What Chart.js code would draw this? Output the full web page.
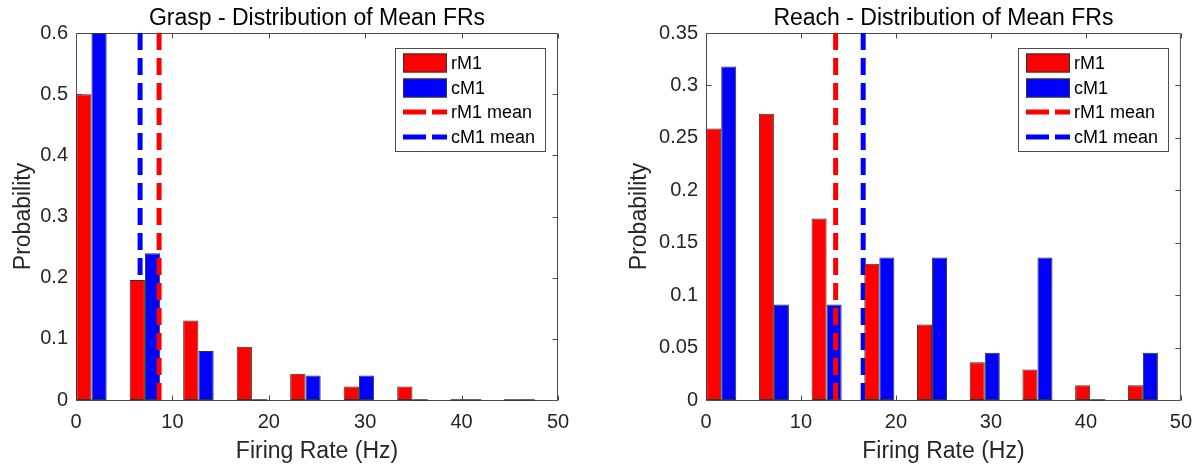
<!DOCTYPE html>
<html>
<head>
<meta charset="utf-8">
<title>Distribution of Mean FRs</title>
<script src="https://cdn.jsdelivr.net/npm/chart.js@4.4.1/dist/chart.umd.min.js"></script>
<style>
  html, body { margin: 0; padding: 0; background: #fff; }
  #wrap { position: relative; width: 1202px; height: 465px; overflow: hidden; }
  .panel { position: absolute; top: 0; width: 601px; height: 465px; }
</style>
</head>
<body>
<div id="wrap">
  <div class="panel" style="left:0"><canvas id="grasp" width="601" height="465"></canvas></div>
  <div class="panel" style="left:601px"><canvas id="reach" width="601" height="465"></canvas></div>
</div>
<script>
// histogram bin centres (Hz), same for both panels
const binCenters = [1.6, 7.15, 12.7, 18.25, 23.8, 29.35, 34.9, 40.45, 46.0];
const xTicks = [0, 10, 20, 30, 40, 50];
const legendLabels = ["rM1", "cM1", "rM1 mean", "cM1 mean"];

// Grasp
const graspRM1 = [0.5, 0.196, 0.13, 0.087, 0.043, 0.022, 0.022, 0, 0];
const graspCM1 = [0.6, 0.24, 0.08, 0, 0.04, 0.04, 0, 0, 0];
const graspMeanRM1 = 8.62;
const graspMeanCM1 = 6.65;
const graspYTicks = [0, 0.1, 0.2, 0.3, 0.4, 0.5, 0.6];

// Reach
const reachRM1 = [0.259, 0.273, 0.173, 0.13, 0.072, 0.036, 0.029, 0.014, 0.014];
const reachCM1 = [0.318, 0.091, 0.091, 0.136, 0.136, 0.045, 0.136, 0, 0.045];
const reachMeanRM1 = 13.65;
const reachMeanCM1 = 16.55;
const reachYTicks = [0, 0.05, 0.1, 0.15, 0.2, 0.25, 0.3, 0.35];

const RED = "#ff0000";
const BLUE = "#0000ff";
const EDGE = "#333333";
const AXIS = "#4d4d4d";

Chart.defaults.font.family = "'Liberation Sans', Arial, Helvetica, sans-serif";
Chart.defaults.color = "#262626";

// box around the plot area with inward ticks on all four sides
const axesBox = {
  id: "axesBox",
  beforeDatasetsDraw(chart) {
    const { ctx, chartArea: a, scales } = chart;
    const len = 5;
    ctx.save();
    ctx.strokeStyle = AXIS;
    ctx.lineWidth = 1;
    ctx.beginPath();
    const l = a.left + 0.5, r = a.right - 0.5, t = a.top + 0.5, b = a.bottom + 0.5;
    ctx.rect(l, t, r - l, b - t);
    scales.x.ticks.forEach((tk) => {
      const px = Math.round(scales.x.getPixelForValue(tk.value)) + 0.5;
      ctx.moveTo(px, b); ctx.lineTo(px, b - len);
      ctx.moveTo(px, t); ctx.lineTo(px, t + len);
    });
    scales.y.ticks.forEach((tk) => {
      const py = Math.round(scales.y.getPixelForValue(tk.value)) + 0.5;
      ctx.moveTo(l, py); ctx.lineTo(l + len, py);
      ctx.moveTo(r, py); ctx.lineTo(r - len, py);
    });
    ctx.stroke();
    ctx.restore();
  },
};

// empty bins still show their bottom edge
const zeroBars = {
  id: "zeroBars",
  afterDatasetsDraw(chart) {
    const { ctx } = chart;
    ctx.save();
    ctx.strokeStyle = EDGE;
    ctx.lineWidth = 1.5;
    chart.data.datasets.forEach((ds, i) => {
      if (ds.type === "line") return;
      const meta = chart.getDatasetMeta(i);
      meta.data.forEach((bar, j) => {
        if (ds.data[j].y !== 0) return;
        const { x, width, base } = bar.getProps(["x", "width", "base"], true);
        ctx.beginPath();
        ctx.moveTo(x - width / 2, base);
        ctx.lineTo(x + width / 2, base);
        ctx.stroke();
      });
    });
    ctx.restore();
  },
};

// legend box in the upper right corner of the plot area
const boxLegend = {
  id: "boxLegend",
  afterDraw(chart) {
    const { ctx, chartArea: a } = chart;
    const w = 150, h = 103;
    const x0 = Math.round(a.right - 13 - w), y0 = Math.round(a.top + 15);
    ctx.save();
    ctx.fillStyle = "#fff";
    ctx.fillRect(x0, y0, w, h);
    ctx.strokeStyle = AXIS;
    ctx.lineWidth = 1;
    ctx.strokeRect(x0 + 0.5, y0 + 0.5, w, h);
    const rows = [15, 40, 64, 89];
    const colors = [RED, BLUE, RED, BLUE];
    ctx.font = "18px 'Liberation Sans', Arial, sans-serif";
    ctx.textBaseline = "middle";
    legendLabels.forEach((label, i) => {
      const cy = y0 + rows[i];
      if (i < 2) {
        ctx.fillStyle = colors[i];
        ctx.fillRect(x0 + 8, cy - 9.5, 44, 19);
        ctx.strokeStyle = EDGE;
        ctx.strokeRect(x0 + 8.5, cy - 9, 43, 18);
      } else {
        ctx.strokeStyle = colors[i];
        ctx.lineWidth = 5;
        ctx.setLineDash([23, 6]);
        ctx.beginPath();
        ctx.moveTo(x0 + 8, cy);
        ctx.lineTo(x0 + 52, cy);
        ctx.stroke();
        ctx.setLineDash([]);
        ctx.lineWidth = 1;
      }
      ctx.fillStyle = "#000";
      ctx.fillText(label, x0 + 56, cy + 1);
    });
    ctx.restore();
  },
};

function bars(label, values, color) {
  return {
    type: "bar",
    label,
    data: binCenters.map((x, i) => ({ x, y: values[i] })),
    backgroundColor: color,
    borderColor: EDGE,
    borderWidth: 1,
    borderSkipped: false,
    categoryPercentage: 0.57,
    barPercentage: 1,
    order: 1,
  };
}

function meanLine(label, mean, top, color, order) {
  return {
    type: "line",
    label,
    data: [{ x: mean, y: top }, { x: mean, y: 0 }],
    borderColor: color,
    borderWidth: 5,
    borderDash: [17, 8],
    borderCapStyle: "butt",
    pointRadius: 0,
    fill: false,
    order,
  };
}

function makeChart(id, title, rM1, cM1, meanR, meanC, yTicks, yAxisWidth, yTitlePad, rightPad) {
  const yMax = yTicks[yTicks.length - 1];
  return new Chart(document.getElementById(id), {
    type: "bar",
    data: {
      datasets: [
        meanLine("rM1 mean", meanR, yMax, RED, 0),
        bars("rM1", rM1, RED),
        bars("cM1", cM1, BLUE),
        meanLine("cM1 mean", meanC, yMax, BLUE, 2),
      ],
    },
    options: {
      responsive: false,
      animation: false,
      layout: { padding: { left: 0, right: rightPad, top: 0, bottom: 0 } },
      plugins: {
        legend: { display: false },
        tooltip: { enabled: false },
        title: {
          display: true,
          text: title,
          fullSize: false,
          color: "#000",
          font: { size: 23, weight: "normal", lineHeight: 1 },
          padding: { top: 7, bottom: 3 },
        },
      },
      scales: {
        x: {
          type: "linear",
          min: 0,
          max: 50,
          offset: false,
          grid: { display: false, drawTicks: false },
          border: { display: false },
          afterBuildTicks: (s) => { s.ticks = xTicks.map((v) => ({ value: v })); },
          afterFit: (s) => { s.height = 65; },
          ticks: { padding: 10, font: { size: 20 } },
          title: {
            display: true,
            text: "Firing Rate (Hz)",
            font: { size: 23 },
            padding: { top: 0, bottom: 0 },
          },
        },
        y: {
          min: 0,
          max: yMax,
          grid: { display: false, drawTicks: false },
          border: { display: false },
          afterBuildTicks: (s) => { s.ticks = yTicks.map((v) => ({ value: v })); },
          afterFit: (s) => { s.width = yAxisWidth; },
          ticks: {
            padding: 8,
            font: { size: 20 },
            callback: (v) => String(+v.toFixed(2)),
          },
          title: {
            display: true,
            text: "Probability",
            font: { size: 23 },
            padding: { top: yTitlePad, bottom: 0 },
          },
        },
      },
    },
    plugins: [axesBox, zeroBars, boxLegend],
  });
}

makeChart("grasp", "Grasp - Distribution of Mean FRs", graspRM1, graspCM1,
  graspMeanRM1, graspMeanCM1, graspYTicks, 76, 10, 43);
makeChart("reach", "Reach - Distribution of Mean FRs", reachRM1, reachCM1,
  reachMeanRM1, reachMeanCM1, reachYTicks, 105, 25, 15);
</script>
</body>
</html>
